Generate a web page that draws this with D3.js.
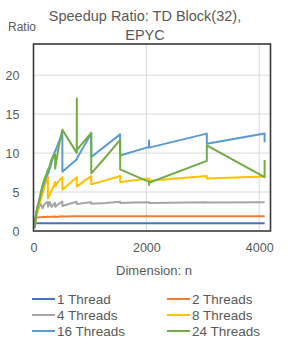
<!DOCTYPE html>
<html>
<head>
<meta charset="utf-8">
<script src="https://cdn.jsdelivr.net/npm/d3@7"></script>
<style>
  body { margin: 0; background: #fff; }
  text { font-family: "Liberation Sans", Arial, sans-serif; fill: #595959; }
</style>
</head>
<body>
<div id="chart"></div>
<script>
// dimension n (shared x values); null = no point for that series
const dims = [16, 32, 48, 64, 96, 128, 160, 192, 224, 255, 256, 288, 320, 352, 383, 384, 416, 448, 480, 511, 512,
  640, 767, 768, 769, 896, 1023, 1024, 1280, 1535, 1536, 1792, 2047, 2048, 2049, 2560, 3071, 3072, 3584, 4095, 4096];

const seriesNames = ['1 Thread', '2 Threads', '4 Threads', '8 Threads', '16 Threads', '24 Threads'];
const seriesColors = ['#4472C4', '#ED7D31', '#A5A5A5', '#FFC000', '#5B9BD5', '#70AD47'];

const t1 = [1, 1, 1, 1, 1, 1, 1, 1, 1, 1, 1, 1, 1, 1, 1, 1, 1, 1, 1, 1, 1,
  1, 1, 1, 1, 1, 1, 1, 1, 1, 1, 1, 1, 1, 1, 1, 1, 1, 1, 1, 1];
const t2 = [0.3, 1.6, 1.7, 1.7, 1.75, 1.75, 1.8, 1.8, 1.8, 1.85, 1.8, null, null, null, 1.85, 1.8, null, null, null, 1.9, 1.85,
  null, 1.9, 1.88, null, null, 1.9, 1.9, null, 1.9, 1.9, null, 1.9, 1.9, null, null, 1.9, 1.9, null, 1.9, 1.9];
const t4 = [0.5, 1.4, 2.0, 2.4, 3.0, 3.5, 2.9, 3.4, 3.6, 3.75, 3.1, 3.7, 3.1, 3.4, 3.6, 3.1, 3.3, 3.5, 3.65, 3.75, 3.2,
  3.5, 3.75, 3.45, null, 3.6, 3.7, 3.5, 3.6, 3.75, 3.6, 3.65, 3.7, 3.6, null, null, 3.7, 3.65, null, 3.68, 3.68];
const t8 = [0.3, 1.0, 1.6, 2.2, 3.2, 4.0, 4.8, 5.6, 6.4, 7.0, 4.2, 4.7, 5.2, 5.7, 6.3, 5.7, 6.1, 6.4, 6.7, 6.9, 5.3,
  6.1, 6.9, 5.7, null, 6.4, 7.05, 6.0, 6.5, 7.05, 6.3, null, 6.75, 6.45, null, null, 7.05, 6.75, null, 7.0, 7.0];
const t16 = [0.4, 1.3, 2.3, 2.9, 3.7, 4.7, 5.6, 6.3, 6.9, 7.5, 7.3, 8.0, 8.8, 9.6, 10.3, 10.2, 10.8, 11.4, 12.0, 12.5, 7.6,
  8.4, 9.2, 9.3, null, 10.9, 12.5, 9.5, null, 12.4, 9.7, null, 10.8, 11.6, 10.7, null, 12.5, 11.2, null, 12.5, 11.4];
const t24 = [0.6, 1.5, 2.3, 2.9, 3.8, 4.9, 5.9, 6.6, 7.2, 7.9, 7.7, 8.4, 9.2, 9.7, 9.8, 8.0, 9.5, 10.8, 12.0, 13.0, null,
  11.5, 10.0, 17.0, 10.4, 11.5, 12.6, 7.4, 9.5, 11.7, 7.9, null, 6.3, 5.9, 6.2, null, 9.0, 11.0, null, 6.9, 9.1];

const seriesValues = [t1, t2, t4, t8, t16, t24];

const xTicks = [0, 2000, 4000];
const yTicks = [0, 5, 10, 15, 20];

const W = 291, H = 341;
const svg = d3.select('#chart').append('svg').attr('width', W).attr('height', H);

const x = d3.scaleLinear().domain([0, 4200]).range([33.5, 270.5]);
const y = d3.scaleLinear().domain([0, 24]).range([231, 44]);

// gridlines
svg.append('g').selectAll('line').data(yTicks.slice(1)).join('line')
  .attr('x1', x(0)).attr('x2', x(4200))
  .attr('y1', d => y(d)).attr('y2', d => y(d))
  .attr('stroke', '#d9d9d9').attr('stroke-width', 1);
svg.append('g').selectAll('line').data(xTicks.slice(1)).join('line')
  .attr('x1', d => x(d)).attr('x2', d => x(d))
  .attr('y1', y(0)).attr('y2', y(24))
  .attr('stroke', '#d9d9d9').attr('stroke-width', 1);

// axes (labels only, no tick marks)
const yAxis = svg.append('g').attr('transform', `translate(${x(0)},0)`)
  .call(d3.axisLeft(y).tickValues(yTicks).tickSize(0).tickPadding(14));
const xAxis = svg.append('g').attr('transform', `translate(0,${y(0)})`)
  .call(d3.axisBottom(x).tickValues(xTicks).tickSize(0).tickPadding(12).tickFormat(d3.format('d')));
[xAxis, yAxis].forEach(a => {
  a.select('.domain').remove();
  a.selectAll('text').attr('font-size', 12.5).attr('fill', '#595959')
    .style('font-family', '"Liberation Sans", Arial, sans-serif');
});

// series
const line = d3.line().x(d => x(d[0])).y(d => y(d[1]));
seriesValues.forEach((vals, i) => {
  const pts = dims.map((n, j) => [n, vals[j]]).filter(d => d[1] != null);
  svg.append('path').datum(pts)
    .attr('d', line)
    .attr('fill', 'none')
    .attr('stroke', seriesColors[i])
    .attr('stroke-width', 2)
    .attr('stroke-linejoin', 'round');
});

// plot frame
svg.append('rect')
  .attr('x', x(0)).attr('y', y(24))
  .attr('width', x(4200) - x(0)).attr('height', y(0) - y(24))
  .attr('fill', 'none').attr('stroke', '#3a3a3a').attr('stroke-width', 1.6);

// titles
svg.append('text').attr('x', 145).attr('y', 21).attr('text-anchor', 'middle')
  .attr('font-size', 14.5).text('Speedup Ratio: TD Block(32),');
svg.append('text').attr('x', 145).attr('y', 40).attr('text-anchor', 'middle')
  .attr('font-size', 14.5).text('EPYC');
svg.append('text').attr('x', 8).attr('y', 30.5).attr('font-size', 12).text('Ratio');
svg.append('text').attr('x', 154).attr('y', 275).attr('text-anchor', 'middle')
  .attr('font-size', 13).text('Dimension: n');

// legend
const legend = svg.append('g');
seriesNames.forEach((name, i) => {
  const col = i % 2, row = Math.floor(i / 2);
  const lx = col === 0 ? 32 : 167, ly = 299 + row * 16;
  legend.append('line').attr('x1', lx).attr('x2', lx + 23).attr('y1', ly).attr('y2', ly)
    .attr('stroke', seriesColors[i]).attr('stroke-width', 2);
  legend.append('text').attr('x', lx + 25).attr('y', ly + 4.8).attr('font-size', 13.5).text(name);
});
</script>
</body>
</html>
